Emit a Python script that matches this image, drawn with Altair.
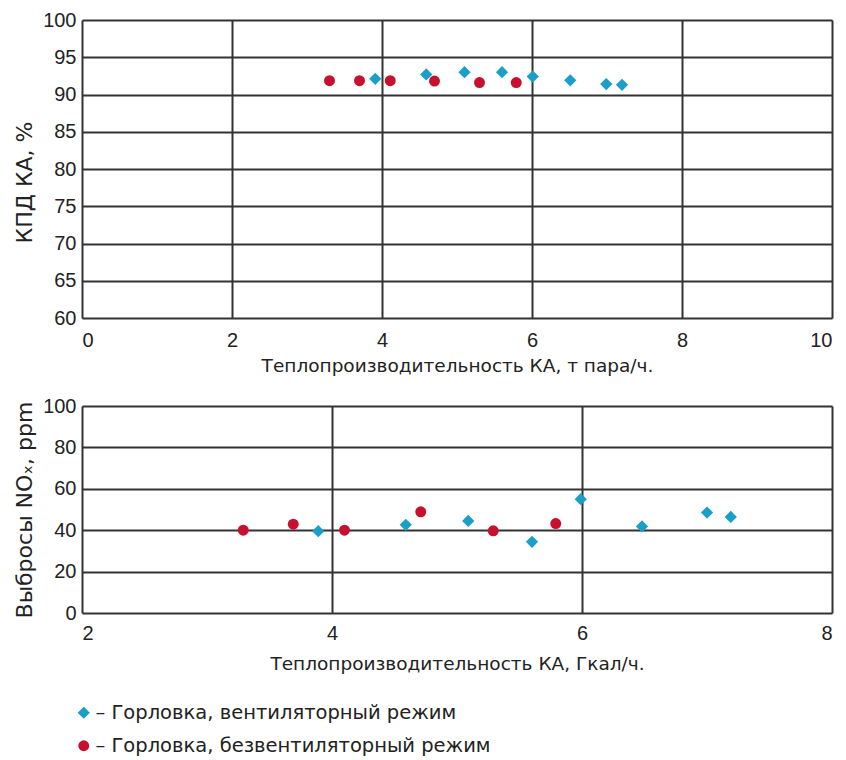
import altair as alt
import pandas as pd

TICK_FONT = "Liberation Sans, Arial, sans-serif"
TITLE_FONT = "DejaVu Sans, Verdana, sans-serif"
SERIES = ["– Горловка, вентиляторный режим", "– Горловка, безвентиляторный режим"]
COLORS = ["#1a9fc9", "#c8102e"]
SHAPES = ["diamond", "circle"]
SIZES = [150, 120]

# Top chart: efficiency vs steam output (t/h)
fan_steam_x = [3.91, 4.59, 5.10, 5.60, 6.01, 6.51, 6.99, 7.20]
fan_eff = [92.1, 92.7, 93.0, 93.0, 92.4, 91.9, 91.4, 91.3]
nofan_steam_x = [3.30, 3.70, 4.11, 4.70, 5.30, 5.79]
nofan_eff = [91.85, 91.85, 91.85, 91.8, 91.6, 91.6]

# Bottom chart: NOx vs heat output (Gcal/h)
fan_heat_x = [3.89, 4.59, 5.09, 5.60, 5.99, 6.48, 7.00, 7.19]
fan_nox = [39.5, 42.6, 44.5, 34.4, 55.0, 41.8, 48.5, 46.4]
nofan_heat_x = [3.29, 3.69, 4.10, 4.71, 5.29, 5.79]
nofan_nox = [40.0, 42.9, 40.0, 48.9, 39.7, 43.2]

top_df = pd.DataFrame({
    "x": fan_steam_x + nofan_steam_x,
    "y": fan_eff + nofan_eff,
    "s": [SERIES[0]] * len(fan_steam_x) + [SERIES[1]] * len(nofan_steam_x),
})
bot_df = pd.DataFrame({
    "x": fan_heat_x + nofan_heat_x,
    "y": fan_nox + nofan_nox,
    "s": [SERIES[0]] * len(fan_heat_x) + [SERIES[1]] * len(nofan_heat_x),
})

color_scale = alt.Scale(domain=SERIES, range=COLORS)
shape_scale = alt.Scale(domain=SERIES, range=SHAPES)
size_scale = alt.Scale(domain=SERIES, range=SIZES)

legend = alt.Legend(orient="none", legendX=-8, legendY=683, title=None,
                    labelFont=TITLE_FONT, labelFontSize=19.5, labelColor="#222",
                    labelLimit=0, symbolSize=100, rowPadding=12, symbolOpacity=1,
                    labelOffset=2)

axis_common = dict(
    labelFont=TICK_FONT, titleFont=TITLE_FONT, labelFontSize=20,
    labelColor="#222", titleColor="#222", titleFontWeight="normal",
    gridColor="#333", gridWidth=2, domain=False, ticks=False,
)

top = alt.Chart(top_df).mark_point(filled=True, opacity=1).encode(
    x=alt.X("x:Q", scale=alt.Scale(domain=[0, 10], nice=False),
            axis=alt.Axis(values=[0, 2, 4, 6, 8, 10], title="Теплопроизводительность КА, т пара/ч.",
                          titleFontSize=18.5, labelPadding=12, titlePadding=6, **axis_common)),
    y=alt.Y("y:Q", scale=alt.Scale(domain=[60, 100], nice=False, zero=False),
            axis=alt.Axis(values=list(range(60, 101, 5)), title="КПД КА, %",
                          titleFontSize=22, titleY=162, labelPadding=6, titlePadding=6,
                          **axis_common)),
    color=alt.Color("s:N", scale=color_scale, legend=legend),
    shape=alt.Shape("s:N", scale=shape_scale),
    size=alt.Size("s:N", scale=size_scale, legend=None),
).properties(width=750, height=298)

bottom = alt.Chart(bot_df).mark_point(filled=True, opacity=1).encode(
    x=alt.X("x:Q", scale=alt.Scale(domain=[2, 8], nice=False),
            axis=alt.Axis(values=[2, 4, 6, 8], title="Теплопроизводительность КА, Гкал/ч.",
                          titleFontSize=18.5, labelPadding=10, titlePadding=11, **axis_common)),
    y=alt.Y("y:Q", scale=alt.Scale(domain=[0, 100], nice=False),
            axis=alt.Axis(values=[0, 20, 40, 60, 80, 100], title="Выбросы NOₓ, ppm",
                          titleFontSize=22, labelPadding=6, titlePadding=6, **axis_common)),
    color=alt.Color("s:N", scale=color_scale, legend=legend),
    shape=alt.Shape("s:N", scale=shape_scale),
    size=alt.Size("s:N", scale=size_scale, legend=None),
).properties(width=750, height=207)

chart = alt.vconcat(top, bottom, spacing=20).properties(
    padding={"top": 1, "left": 5, "right": 5, "bottom": 5}
).configure_view(
    fill="#fffdf0", stroke="#222", strokeWidth=3
).configure(background="white")

chart.save("out.html", embed_options={"renderer": "svg", "actions": False})
